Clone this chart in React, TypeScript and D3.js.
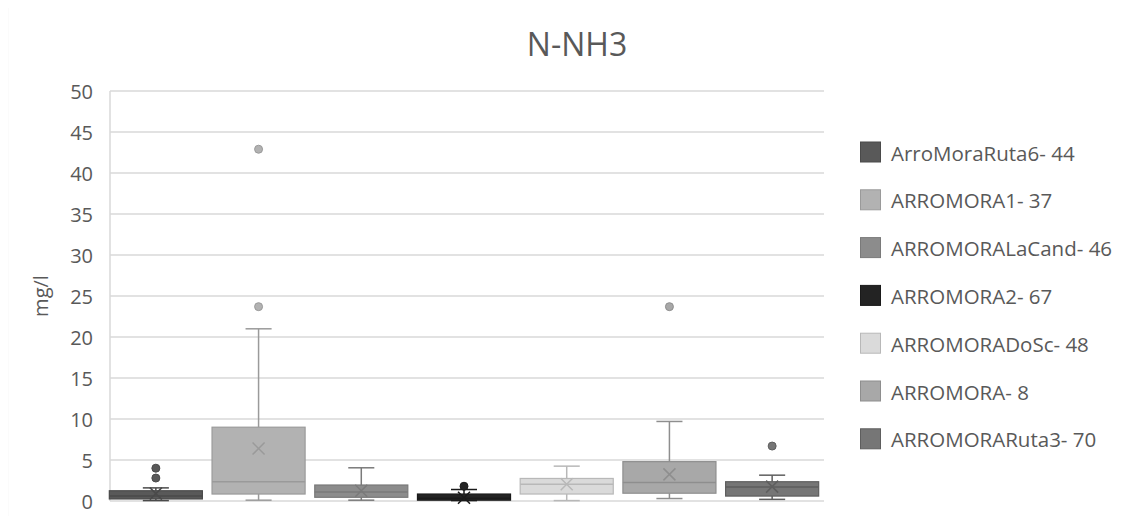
import React from "react";
import * as d3 from "d3";

const seriesNames = [
  "ArroMoraRuta6- 44",
  "ARROMORA1- 37",
  "ARROMORALaCand- 46",
  "ARROMORA2- 67",
  "ARROMORADoSc- 48",
  "ARROMORA- 8",
  "ARROMORARuta3- 70",
];
const whiskerLow = [0.05, 0.1, 0.1, 0.05, 0.05, 0.3, 0.2];
const q1 = [0.25, 0.85, 0.45, 0.1, 0.85, 0.95, 0.6];
const median = [0.6, 2.35, 1.1, 0.35, 2.05, 2.25, 1.7];
const q3 = [1.25, 9.0, 1.95, 0.85, 2.75, 4.8, 2.35];
const whiskerHigh = [1.6, 21.0, 4.05, 1.4, 4.25, 9.7, 3.15];
const means = [0.9, 6.4, 1.25, 0.4, 2.05, 3.25, 1.75];
const outliers = [[2.8, 4.0], [23.7, 42.9], [], [1.8], [], [23.7], [6.7]];
const fills = ["#595959", "#b2b2b2", "#8c8c8c", "#232323", "#dadada", "#a8a8a8", "#767676"];
const strokes = ["#4a4a4a", "#9a9a9a", "#7a7a7a", "#1a1a1a", "#b8b8b8", "#8e8e8e", "#5e5e5e"];
const yTicks = [0, 5, 10, 15, 20, 25, 30, 35, 40, 45, 50];

const W = 1139, H = 524;
const font = "'Open Sans', sans-serif";

export default function App() {
  const y = d3.scaleLinear().domain([0, 50]).range([501, 91]);
  const x = d3.scaleBand<string>().domain(seriesNames).range([104.5, 823.5]).paddingInner(0.094).paddingOuter(0.047);
  const bw = x.bandwidth();
  const capW = bw * 0.28;
  const xs = 6;
  return (
    <div style={{ margin: -8 }}>
      <svg width={W} height={H} style={{ display: "block" }}>
        <rect x={0} y={0} width={W} height={H} fill="#fff" />
        <rect x={7.5} y={6.5} width={1200} height={600} fill="#fff" stroke="#d4d4d4" strokeWidth={1.2} />
        <text x={577} y={55.7} textAnchor="middle" fontFamily={font} fontSize={32} fill="#595959">N-NH3</text>
        {yTicks.map((t) => (
          <g key={t}>
            <line x1={110} x2={824} y1={y(t)} y2={y(t)} stroke="#d9d9d9" strokeWidth={1.5} />
            <text x={93} y={y(t) + 7.5} textAnchor="end" fontFamily={font} fontSize={20} fill="#595959">{t}</text>
          </g>
        ))}
        <line x1={110} x2={110} y1={y(50)} y2={y(0)} stroke="#d9d9d9" strokeWidth={1.5} />
        <text transform={`translate(48,${y(25)}) rotate(-90)`} textAnchor="middle" fontFamily={font} fontSize={20} fill="#595959">mg/l</text>
        {seriesNames.map((s, i) => {
          const x0 = x(s)!;
          const cx = x0 + bw / 2;
          const st = strokes[i];
          return (
            <g key={s}>
              <line x1={cx} x2={cx} y1={y(q3[i])} y2={y(whiskerHigh[i])} stroke={st} strokeWidth={1.5} />
              <line x1={cx} x2={cx} y1={y(q1[i])} y2={y(whiskerLow[i])} stroke={st} strokeWidth={1.5} />
              <line x1={cx - capW / 2} x2={cx + capW / 2} y1={y(whiskerHigh[i])} y2={y(whiskerHigh[i])} stroke={st} strokeWidth={1.5} />
              <line x1={cx - capW / 2} x2={cx + capW / 2} y1={y(whiskerLow[i])} y2={y(whiskerLow[i])} stroke={st} strokeWidth={1.5} />
              <rect x={x0} y={y(q3[i])} width={bw} height={y(q1[i]) - y(q3[i])} fill={fills[i]} stroke={st} strokeWidth={1.2} />
              <line x1={x0} x2={x0 + bw} y1={y(median[i])} y2={y(median[i])} stroke={st} strokeWidth={1.5} />
              <path d={`M${cx - xs},${y(means[i]) - xs}L${cx + xs},${y(means[i]) + xs}M${cx - xs},${y(means[i]) + xs}L${cx + xs},${y(means[i]) - xs}`} stroke={st} strokeWidth={1.5} fill="none" />
              {outliers[i].map((o, j) => (
                <circle key={j} cx={cx} cy={y(o)} r={4} fill={fills[i]} stroke={st} strokeWidth={1} />
              ))}
            </g>
          );
        })}
        {seriesNames.map((s, i) => {
          const ly = 152 + i * 47.8;
          return (
            <g key={s}>
              <rect x={860.5} y={ly - 10} width={20} height={20} fill={fills[i]} stroke={strokes[i]} strokeWidth={1} />
              <text x={891} y={ly + 8.5} fontFamily={font} fontSize={20.5} fill="#595959">{s}</text>
            </g>
          );
        })}
      </svg>
    </div>
  );
}
